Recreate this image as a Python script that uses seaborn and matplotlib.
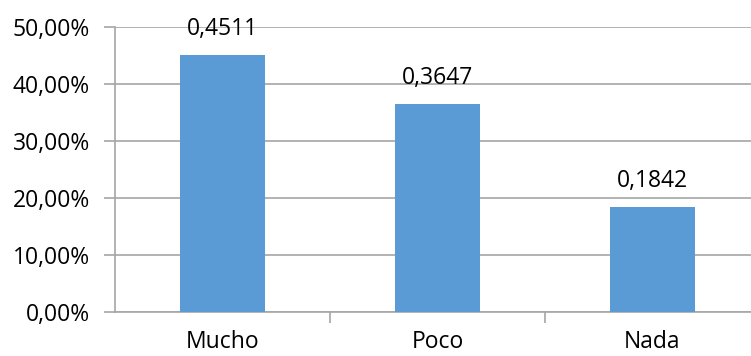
import matplotlib
matplotlib.use("Agg")
import matplotlib.pyplot as plt
from matplotlib.ticker import FixedLocator, FuncFormatter
import seaborn as sns
import pandas as pd

categories = ["Mucho", "Poco", "Nada"]
values = [0.4511, 0.3647, 0.1842]
value_labels = ["0,4511", "0,3647", "0,1842"]
y_ticks = [0.0, 0.1, 0.2, 0.3, 0.4, 0.5]

sns.set_theme(style="white")
plt.rcParams["font.family"] = ["Open Sans", "DejaVu Sans"]

df = pd.DataFrame({"categoria": categories, "valor": values})

W, H = 751, 356
fig = plt.figure(figsize=(W / 100, H / 100), dpi=100)
ax = fig.add_axes([115 / W, (H - 312) / H, (760 - 115) / W, 285 / H])

grid_color = "#A6A6A6"
sns.barplot(data=df, x="categoria", y="valor", color="#5B9BD5",
            width=0.395, saturation=1, linewidth=0, ax=ax, zorder=3)

ax.set_xlim(-0.5, 2.5)
ax.set_ylim(0, 0.5)
ax.set_yticks(y_ticks)
ax.yaxis.set_major_formatter(FuncFormatter(lambda v, _: f"{v * 100:.2f}%".replace(".", ",")))
ax.yaxis.grid(True, color=grid_color, linewidth=1.2, zorder=0)
ax.set_axisbelow(True)

ax.set_xlabel("")
ax.set_ylabel("")

for side in ("top", "right"):
    ax.spines[side].set_visible(False)
for side in ("left", "bottom"):
    ax.spines[side].set_color(grid_color)
    ax.spines[side].set_linewidth(1.2)

fs = 16.5
ax.tick_params(axis="y", which="major", length=8, width=1.2, color=grid_color,
               labelsize=fs, labelcolor="black", pad=10, left=True)
ax.tick_params(axis="x", which="major", length=0, labelsize=fs, labelcolor="black", pad=13)
ax.xaxis.set_minor_locator(FixedLocator([0.5, 1.5]))
ax.tick_params(axis="x", which="minor", length=8, width=1.2, color=grid_color, bottom=True)

for i, (v, lab) in enumerate(zip(values, value_labels)):
    ax.annotate(lab, (i, v), xytext=(0, 10), textcoords="offset points",
                ha="center", va="bottom", fontsize=fs, color="black", annotation_clip=False)

fig.savefig("out.png", dpi=100)
